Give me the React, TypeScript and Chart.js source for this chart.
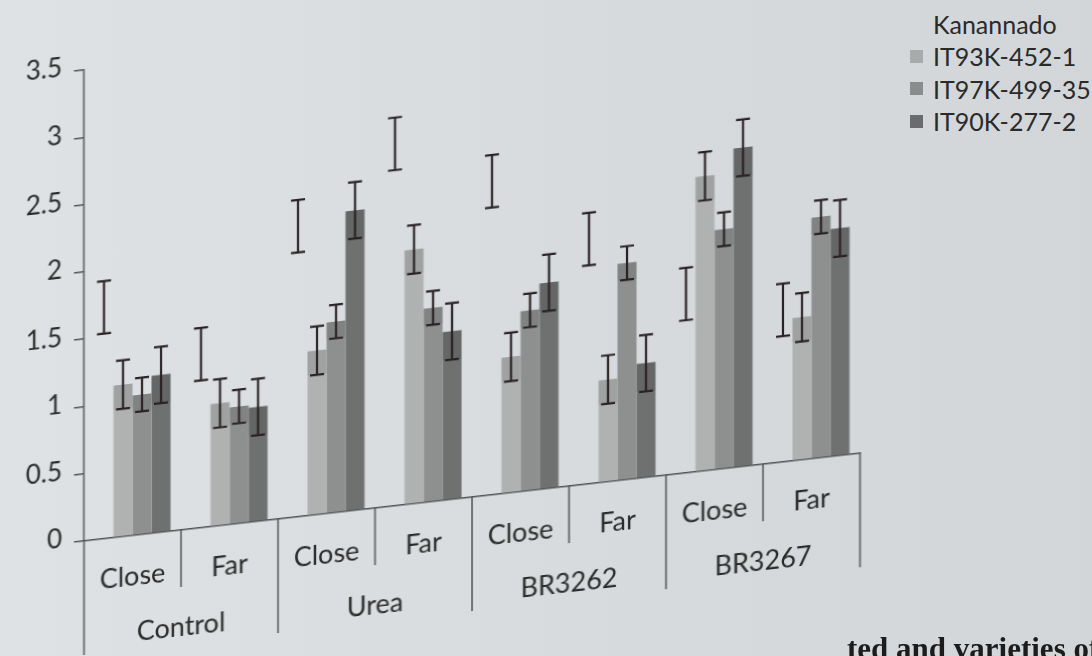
import React, { useEffect, useRef } from "react";
import { Chart, registerables } from "chart.js";

Chart.register(...registerables);

// ---- data ----
const treatments = ["Control", "Urea", "BR3262", "BR3267"];
const distances = ["Close", "Far", "Close", "Far", "Close", "Far", "Close", "Far"];
const seriesNames = ["Kanannado", "IT93K-452-1", "IT97K-499-35", "IT90K-277-2"];

const kanannado = [1.72, 1.29, 2.16, 2.69, 2.33, 1.82, 1.33, 1.13];
const it93k = [1.13, 0.91, 1.22, 1.89, 1.01, 0.76, 2.19, 1.06];
const it97k = [1.04, 0.87, 1.42, 1.44, 1.34, 1.61, 1.78, 1.79];
const it90k = [1.17, 0.85, 2.23, 1.25, 1.53, 0.85, 2.37, 1.69];

// standard error per series (same for every bar of a series)
const seriesErrors = [0.195, 0.18, 0.125, 0.21];

const yTickValues = [0, 0.5, 1, 1.5, 2, 2.5, 3, 3.5];

// ---- styles ----
const seriesColors = ["rgba(0,0,0,0)", "#b0b2b2", "#8e9090", "#6f7171"];
const legendSwatches = ["rgba(0,0,0,0)", "#a9abab", "#8b8d8d", "#6a6c6c"];
const axisColor = "#505252";
const textColor = "#2a2a2a";
const errColor = "#2a2225";
const FONT = "Lato";

const errorBarPlugin = {
  id: "errorBars",
  afterDatasetsDraw(chart: any) {
    const ctx = chart.ctx;
    const y = chart.scales.y;
    chart.data.datasets.forEach((ds: any, i: number) => {
      const meta = chart.getDatasetMeta(i);
      const err = ds.errorValue as number;
      meta.data.forEach((bar: any, j: number) => {
        const v = ds.data[j] as number;
        const x = bar.x;
        const yTop = y.getPixelForValue(v + err);
        const yBot = y.getPixelForValue(v - err);
        const yMean = y.getPixelForValue(v);
        ctx.save();
        if (i > 0) {
          ctx.fillStyle = "rgba(0,0,0,0.09)";
          ctx.fillRect(x - bar.width / 2, yMean, bar.width, yBot - yMean);
        }
        ctx.strokeStyle = errColor;
        ctx.lineWidth = 2.2;
        ctx.beginPath();
        ctx.moveTo(x, yTop);
        ctx.lineTo(x, yBot);
        ctx.moveTo(x - 7, yTop);
        ctx.lineTo(x + 7, yTop);
        ctx.moveTo(x - 7, yBot);
        ctx.lineTo(x + 7, yBot);
        ctx.stroke();
        ctx.restore();
      });
    });
  },
};

const categoryBoxPlugin = {
  id: "categoryBoxes",
  afterDraw(chart: any) {
    const ctx = chart.ctx;
    const x = chart.scales.x;
    const x2 = chart.scales.x2;
    const area = chart.chartArea;
    const n = distances.length;
    const perGroup = n / treatments.length;
    const step = x.width / n;
    ctx.save();
    ctx.strokeStyle = axisColor;
    ctx.lineWidth = 1.5;
    ctx.beginPath();
    for (let i = 0; i <= n; i++) {
      const px = x.left + i * step;
      const bottom = i % perGroup === 0 ? x2.bottom : x.bottom;
      ctx.moveTo(px, area.bottom);
      ctx.lineTo(px, bottom);
    }
    ctx.stroke();
    ctx.restore();
  },
};

export default function App() {
  const canvasRef = useRef<HTMLCanvasElement | null>(null);

  useEffect(() => {
    if (!canvasRef.current) return;
    const series = [kanannado, it93k, it97k, it90k];
    const chart = new Chart(canvasRef.current, {
      type: "bar",
      data: {
        labels: distances,
        datasets: series.map((d, i) => ({
          label: seriesNames[i],
          data: d,
          backgroundColor: seriesColors[i],
          borderWidth: 0,
          errorValue: seriesErrors[i],
          categoryPercentage: 0.784,
          barPercentage: 1,
        })) as any,
      },
      options: {
        responsive: false,
        animation: false,
        layout: { padding: { left: 8, top: 70, right: 20, bottom: 45 } },
        plugins: {
          legend: { display: false },
          tooltip: { enabled: false },
        },
        scales: {
          x: {
            type: "category",
            position: "bottom",
            offset: true,
            weight: 0,
            grid: { display: false, drawTicks: false },
            border: { display: true, color: axisColor, width: 1.5 },
            ticks: {
              font: { family: FONT, size: 27 },
              color: textColor,
              padding: 25,
              maxRotation: 0,
              minRotation: 0,
              autoSkip: false,
            },
            afterFit: (s: any) => {
              s.height = 57;
            },
          },
          x2: {
            type: "category",
            position: "bottom",
            labels: treatments,
            offset: true,
            weight: 1,
            grid: { display: false, drawTicks: false },
            border: { display: false },
            ticks: {
              font: { family: FONT, size: 27 },
              color: textColor,
              padding: 24,
              maxRotation: 0,
              minRotation: 0,
              autoSkip: false,
            },
            afterFit: (s: any) => {
              s.height = 57;
            },
          },
          y: {
            min: yTickValues[0],
            max: yTickValues[yTickValues.length - 1],
            ticks: {
              stepSize: yTickValues[1] - yTickValues[0],
              padding: 12,
              labelOffset: -4,
              font: { family: FONT, size: 26 },
              color: textColor,
              callback: (v: any) => String(Number(v)),
            },
            grid: {
              drawOnChartArea: false,
              drawTicks: true,
              tickLength: 10,
              color: axisColor,
              lineWidth: 1.5,
            },
            border: { display: true, color: axisColor, width: 1.5 },
            afterFit: (s: any) => {
              s.width = 76;
            },
          },
        } as any,
      },
      plugins: [errorBarPlugin, categoryBoxPlugin],
    });
    return () => chart.destroy();
  }, []);

  return (
    <div
      style={{
        position: "fixed",
        left: 0,
        top: 0,
        width: 1092,
        height: 656,
        overflow: "hidden",
        background: "linear-gradient(to right, #dfe2e4, #d6dadc 60%, #d2d6d8)",
      }}
    >
      <div
        style={{
          position: "absolute",
          left: 0,
          top: 0,
          width: 880,
          height: 700,
          transform: "skewY(-6.45deg)",
          transformOrigin: "84px 541px",
        }}
      >
        <canvas ref={canvasRef} width={880} height={700} style={{ width: 880, height: 700, display: "block" }} />
      </div>
      <div
        style={{
          position: "absolute",
          left: 910,
          top: 8,
          fontFamily: FONT,
          fontSize: 25,
          lineHeight: "32.3px",
          color: textColor,
          whiteSpace: "nowrap",
        }}
      >
        {seriesNames.map((name, i) => (
          <div key={name} style={{ display: "flex", alignItems: "center" }}>
            <span
              style={{
                display: "inline-block",
                width: 13,
                height: 13,
                background: legendSwatches[i],
                marginRight: 10,
              }}
            />
            {name}
          </div>
        ))}
      </div>
      <div
        style={{
          position: "absolute",
          left: 847,
          top: 633,
          fontFamily: "'Liberation Serif', serif",
          fontWeight: "bold",
          fontSize: 31,
          lineHeight: 1,
          color: "#1c1c1c",
          whiteSpace: "nowrap",
        }}
      >
        ted and varieties of
      </div>
    </div>
  );
}
